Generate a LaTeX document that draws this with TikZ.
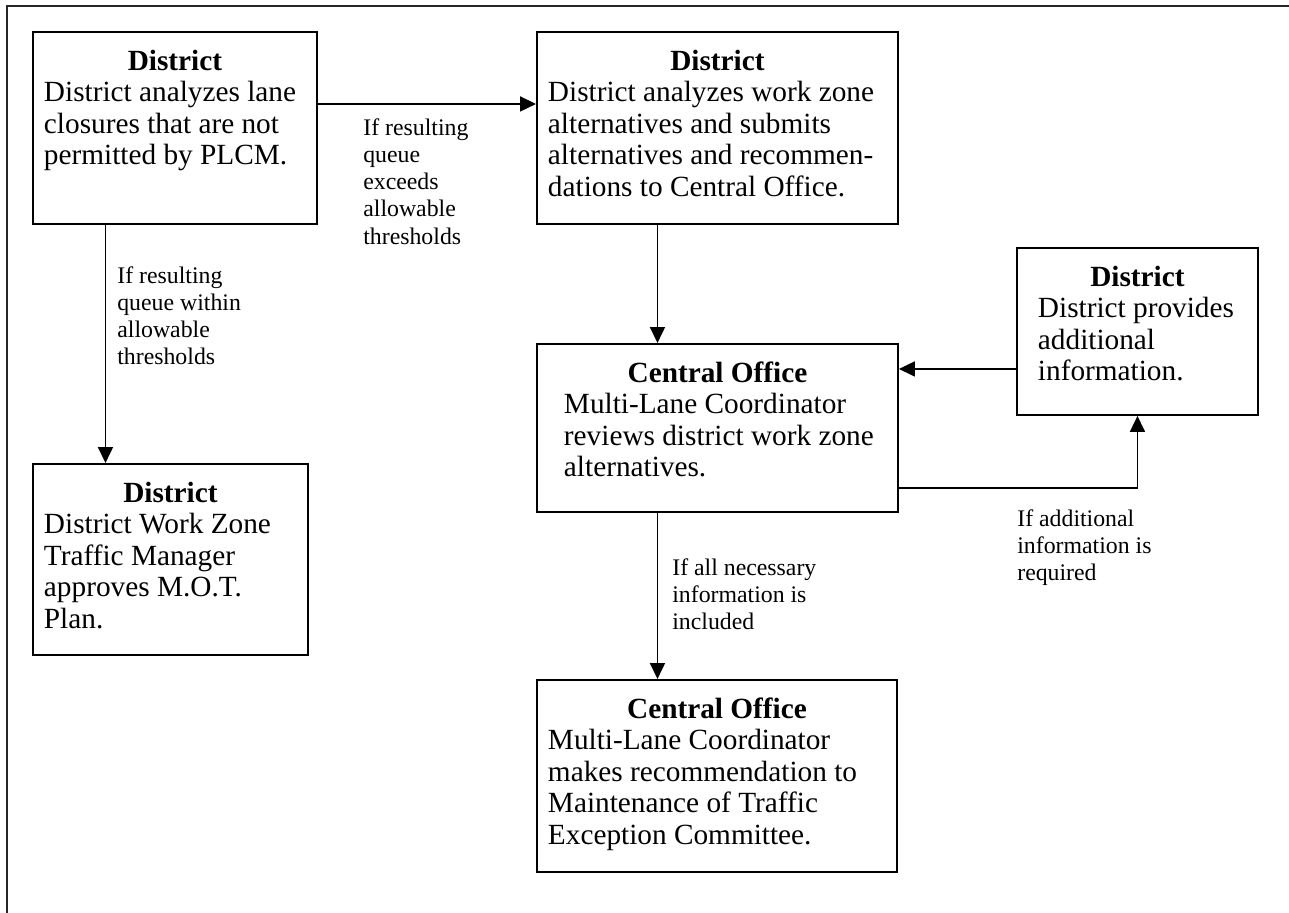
\documentclass[tikz,border=0pt]{standalone}
\usepackage{fontspec}
\setmainfont{Liberation Serif}
\usepackage{tikz}
\usetikzlibrary{arrows.meta,calc,positioning}
\newlength{\px}
\setlength{\px}{0.02cm}
%Kasten: [Einzug]{Breite}{Hoehe}{Titel}{Text}, alles in Bildpunkten
\newcommand{\Kasten}[5][0]{\parbox[t][#3\px][t]{#2\px}{\strut\makebox[\linewidth]{\bfseries #4}\par\leftskip=#1\px\relax #5}}

\begin{document}
\begin{tikzpicture}[x=0.02cm,y=-0.02cm,
  kasten/.style={draw,line width=1.1pt,anchor=north west,inner xsep=0.22cm,inner ysep=0.32cm,font=\fontsize{16.67}{18}\selectfont},
  notiz/.style={anchor=north west,inner sep=0pt,align=left,font=\fontsize{13.54}{15.5}\selectfont},
  pfeil/.style={line width=1pt,-{Triangle[length=0.32cm,width=0.3cm]}}]
\useasboundingbox (0,0) rectangle (1289,913);
%Rahmen (nur oben und links sichtbar)
\draw[line width=0.8pt,black!85] (7,913) -- (7,6) -- (1289,6);

\node[kasten] (analyse) at (32,31) {\Kasten{262}{160}{District}{District analyzes lane\\closures that are not\\permitted by PLCM.}};
\node[kasten] (vorschlag) at (536,31) {\Kasten{339}{160}{District}{District analyzes work zone\\alternatives and submits\\alternatives and recommen-\\dations to Central Office.}};
\node[kasten] (pruefung) at (536,343) {\Kasten[16]{339}{136}{Central Office}{Multi-Lane Coordinator\\reviews district work zone\\alternatives.}};
\node[kasten,inner xsep=0.31cm] (nachtrag) at (1016,247) {\Kasten[5.5]{210}{135}{District}{District provides\\additional\\information.}};
\node[kasten] (genehmigung) at (32,463) {\Kasten{253}{159}{District}{District Work Zone\\Traffic Manager\\approves M.O.T.\\Plan.}};
\node[kasten] (empfehlung) at (536,679) {\Kasten{338}{160}{Central Office}{Multi-Lane Coordinator\\makes recommendation to\\Maintenance of Traffic\\Exception Committee.}};

%Pfeile
\draw[pfeil] ([yshift=0.48cm]analyse.east) -- ([yshift=0.48cm]vorschlag.west);
\coordinate (k1) at ([xshift=-1.39cm]analyse.south);
\draw[pfeil] (k1) -- (k1 |- genehmigung.north);
\coordinate (k2) at ([xshift=-1.2cm]vorschlag.south);
\draw[pfeil] (k2) -- (k2 |- pruefung.north);
\coordinate (k3) at ([yshift=-0.75cm]nachtrag.west);
\draw[pfeil] (k3) -- (k3 -| pruefung.east);
\draw[pfeil] ([yshift=-1.2cm]pruefung.east) -| (nachtrag.south);
\coordinate (k4) at ([xshift=-1.2cm]pruefung.south);
\draw[pfeil] (k4) -- (k4 |- empfehlung.north);

%Bedingungen
\node[notiz] (bed1) at (363,118) {If resulting\\queue\\exceeds\\allowable\\thresholds};
\node[notiz] (bed2) at (117,266) {If resulting\\queue within\\allowable\\thresholds};
\node[notiz] (bed3) at (672,558) {If all necessary\\information is\\included};
\node[notiz] (bed4) at (1017,509) {If additional\\information is\\required};
\end{tikzpicture}
\end{document}
